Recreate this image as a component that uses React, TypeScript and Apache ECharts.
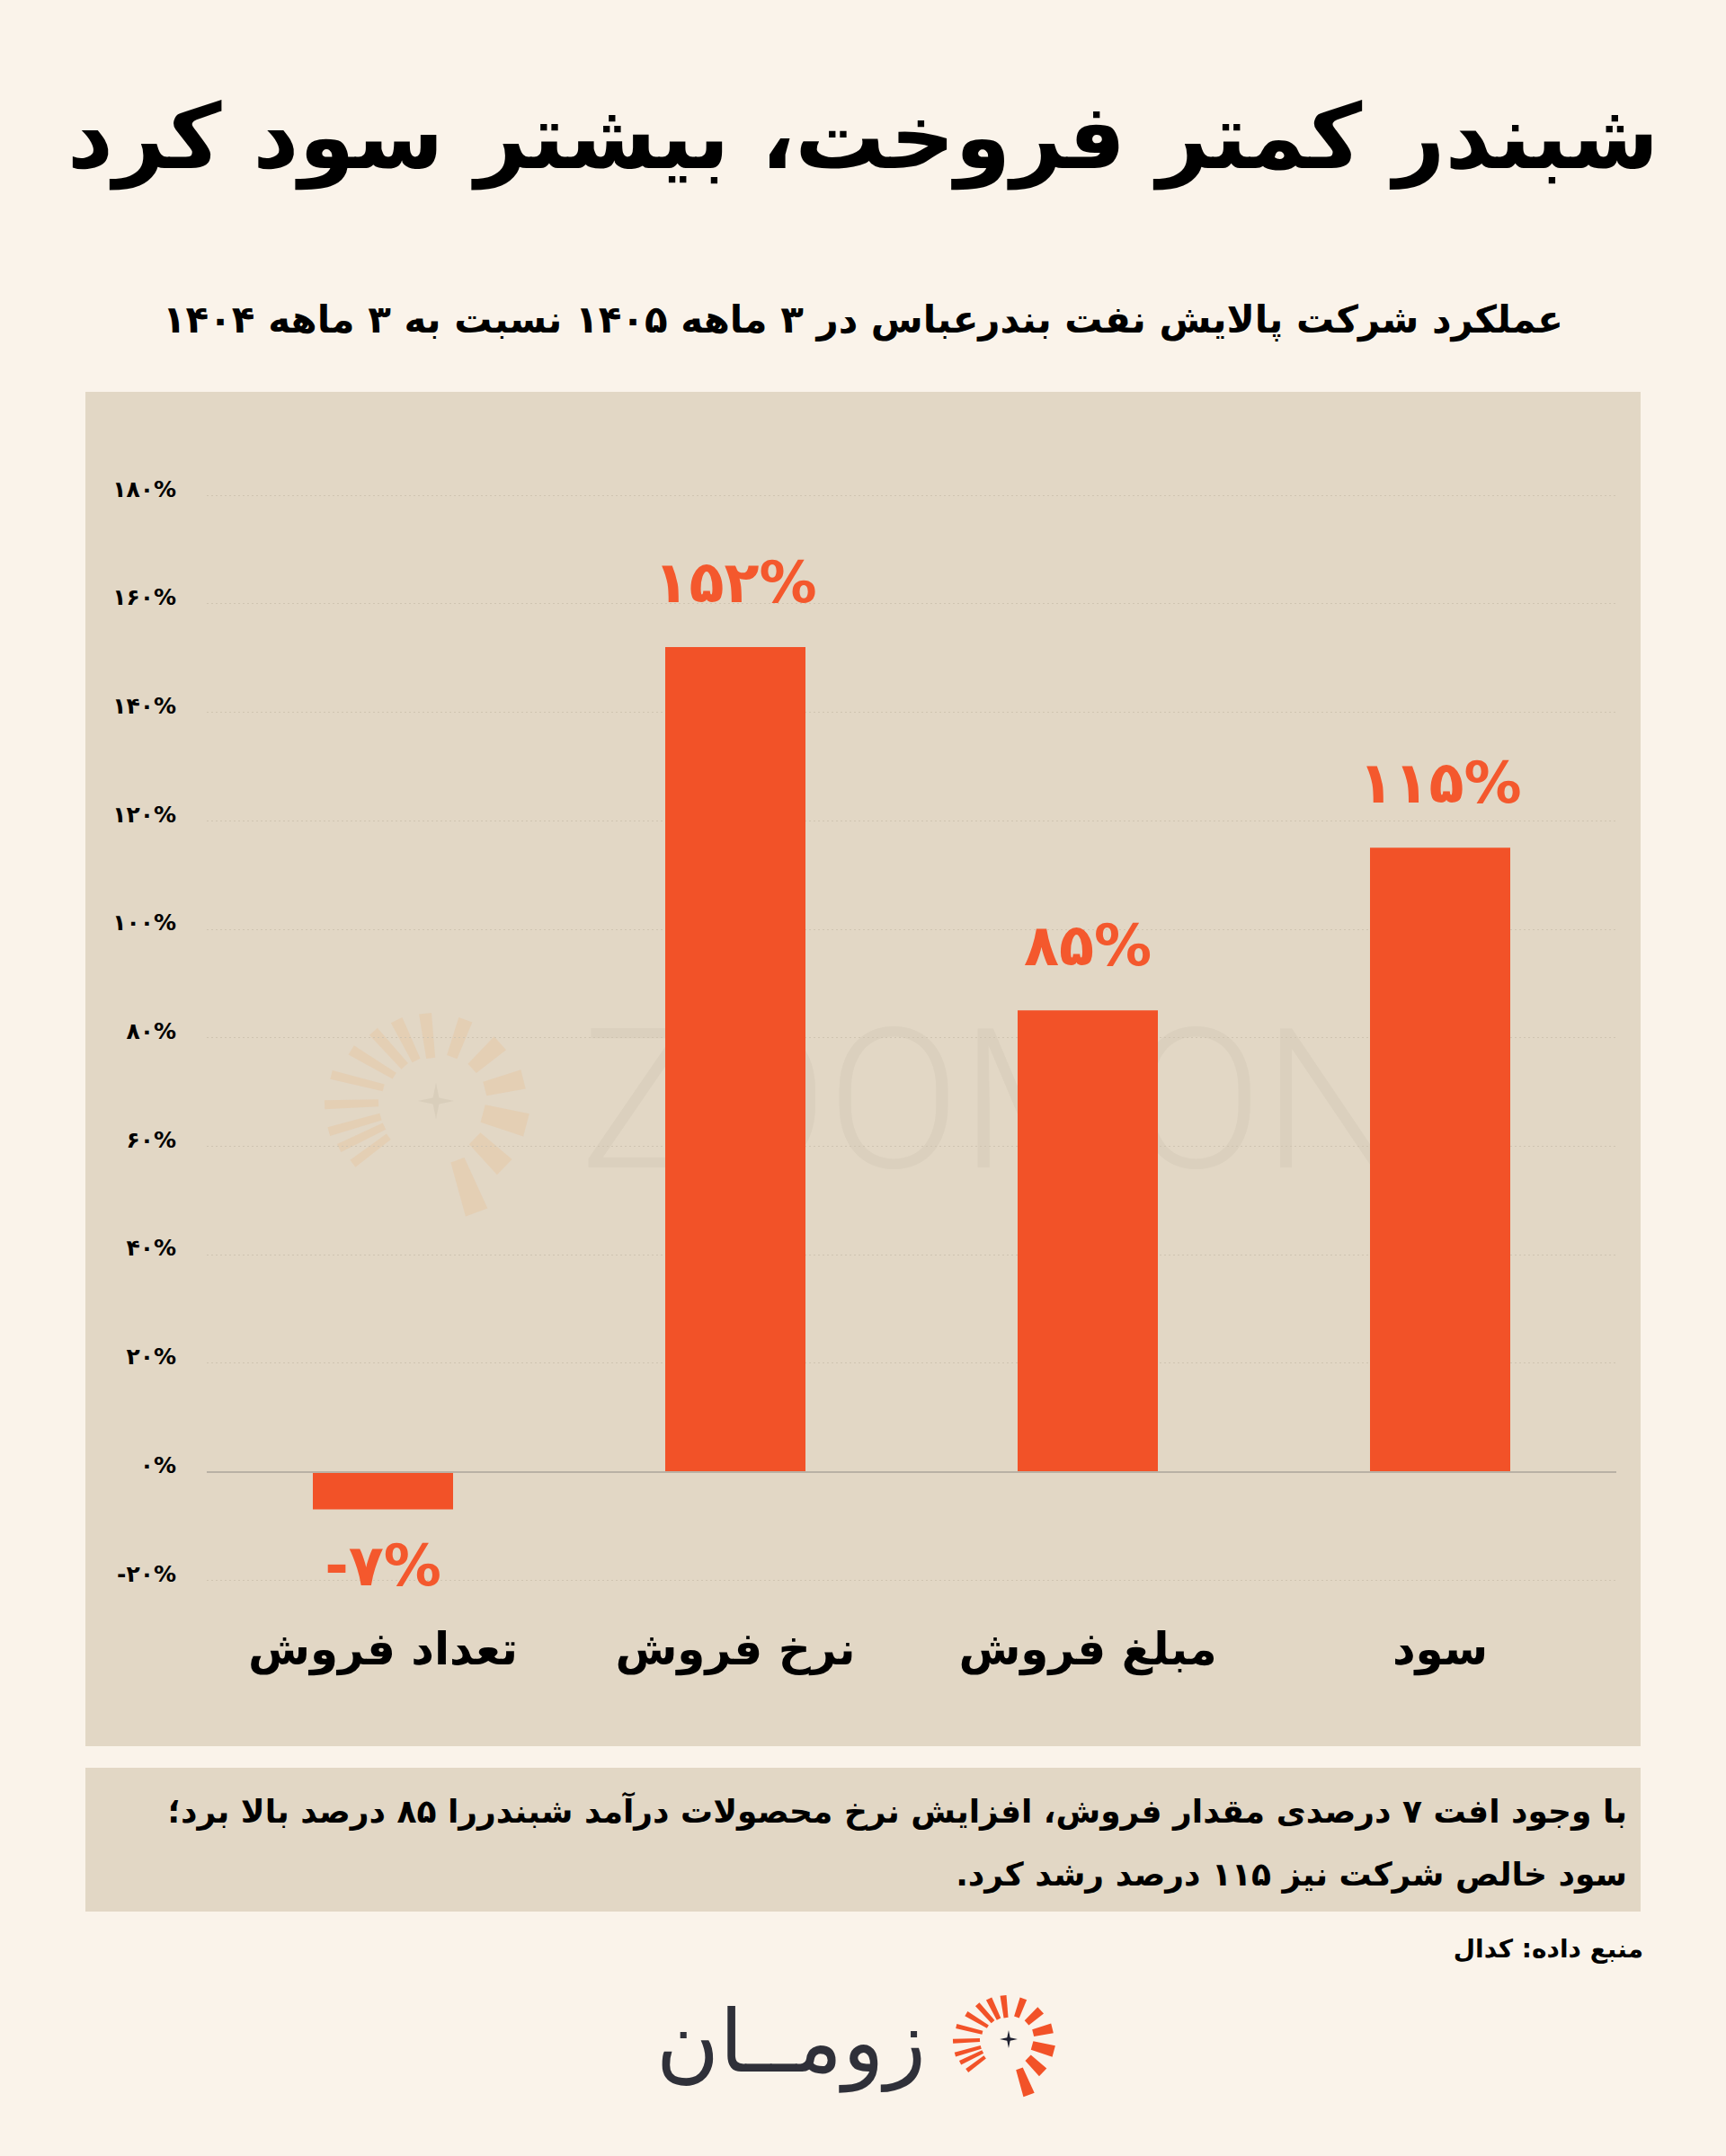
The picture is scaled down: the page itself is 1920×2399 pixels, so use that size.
import React, { useEffect, useRef } from "react";
import * as echarts from "echarts";

// ---------- data ----------
const categories = ["تعداد فروش", "نرخ فروش", "مبلغ فروش", "سود"];
const changePct = [-7, 152, 85, 115];
const yMin = -20;
const yMax = 180;
const yStep = 20;

const titleText = "شبندر کمتر فروخت، بیشتر سود کرد";
const subtitleText = "عملکرد شرکت پالایش نفت بندرعباس در ۳ ماهه ۱۴۰۵ نسبت به ۳ ماهه ۱۴۰۴";
const noteLines = [
  "با وجود افت ۷ درصدی مقدار فروش، افزایش نرخ محصولات درآمد شبندررا ۸۵ درصد بالا برد؛",
  "سود خالص شرکت نیز ۱۱۵ درصد رشد کرد.\u200F",
];
const sourceText = "منبع داده: کدال";
const brandText = "زومــان";
const watermarkText = "ZOOMON";

// ---------- helpers ----------
const FA_DIGITS = "۰۱۲۳۴۵۶۷۸۹";
const fa = (s: string) => s.replace(/\d/g, (d) => FA_DIGITS[+d]);
const pct = (v: number) => fa(String(v)) + "%";

const FONT = '"DejaVu Sans", sans-serif';
const ORANGE = "#F25228";
const PANEL = "#E2D7C5";

// rays of the sunburst logo: [angleDeg, innerR, outerR, innerW, outerW]
const rays: number[][] = [
  [70, 35, 66, 8, 13],
  [44, 30, 53, 9, 12],
  [15, 27, 52, 10, 13],
  [-14, 28, 50, 8, 11],
  [-42, 27, 48, 7, 10],
  [-70, 26, 48, 6, 8],
  [-97, 24, 49, 5, 7],
  [-116, 25, 50, 5, 7],
  [-132, 26, 52, 5, 6],
  [-149, 27, 55, 4, 6],
  [-166, 30, 60, 4, 5],
  [178, 32, 62, 4, 5],
  [164, 32, 62, 4, 5],
  [154, 32, 60, 4, 5],
  [143, 33, 58, 4, 5],
];

function sunburst(cx: number, cy: number, s: number, rayFill: string, starFill: string, z: number) {
  const els: any[] = [];
  rays.forEach(([a, r0, r1, w0, w1]) => {
    const t = (a * Math.PI) / 180;
    const ux = Math.cos(t), uy = Math.sin(t);
    const px = -uy, py = ux;
    const pts = [
      [cx + (ux * r0 + px * w0 / 2) * s, cy + (uy * r0 + py * w0 / 2) * s],
      [cx + (ux * r1 + px * w1 / 2) * s, cy + (uy * r1 + py * w1 / 2) * s],
      [cx + (ux * r1 - px * w1 / 2) * s, cy + (uy * r1 - py * w1 / 2) * s],
      [cx + (ux * r0 - px * w0 / 2) * s, cy + (uy * r0 - py * w0 / 2) * s],
    ];
    els.push({ type: "polygon", z, silent: true, shape: { points: pts }, style: { fill: rayFill } });
  });
  const R = 10 * s, r = 2.4 * s;
  const star: number[][] = [];
  for (let i = 0; i < 8; i++) {
    const ang = (i * Math.PI) / 4 - Math.PI / 2;
    const rr = i % 2 === 0 ? R : r;
    star.push([cx + Math.cos(ang) * rr, cy + Math.sin(ang) * rr]);
  }
  els.push({ type: "polygon", z, silent: true, shape: { points: star }, style: { fill: starFill } });
  return els;
}

export default function App() {
  const ref = useRef<HTMLDivElement>(null);

  useEffect(() => {
    if (!ref.current) return;
    const chart = echarts.init(ref.current, undefined, { renderer: "svg" });

    const graphic: any[] = [
      { type: "rect", z: -20, silent: true, shape: { x: 95, y: 436, width: 1730, height: 1507 }, style: { fill: PANEL } },
      { type: "rect", z: -20, silent: true, shape: { x: 95, y: 1967, width: 1730, height: 160 }, style: { fill: PANEL } },
      {
        type: "text", z: 10, x: 960, y: 152,
        style: { text: titleText, fill: "#000", fontFamily: FONT, fontWeight: "bold", fontSize: 100, textAlign: "center", textVerticalAlign: "middle" },
      },
      {
        type: "text", z: 10, x: 960, y: 355,
        style: { text: subtitleText, fill: "#000", fontFamily: FONT, fontWeight: "bold", fontSize: 42, textAlign: "center", textVerticalAlign: "middle" },
      },
      {
        type: "text", z: 10, x: 1810, y: 2015,
        style: { text: noteLines[0], fill: "#000", fontFamily: FONT, fontWeight: "bold", fontSize: 36, textAlign: "right", textVerticalAlign: "middle" },
      },
      {
        type: "text", z: 10, x: 1810, y: 2085,
        style: { text: noteLines[1], fill: "#000", fontFamily: FONT, fontWeight: "bold", fontSize: 36, textAlign: "right", textVerticalAlign: "middle" },
      },
      {
        type: "text", z: 10, x: 1828, y: 2168,
        style: { text: sourceText, fill: "#000", fontFamily: FONT, fontWeight: "bold", fontSize: 28, textAlign: "right", textVerticalAlign: "middle" },
      },
      {
        type: "text", z: 10, x: 1030, y: 2272,
        style: { text: brandText, fill: "#2F3039", fontFamily: FONT, fontWeight: "normal", fontSize: 96, textAlign: "right", textVerticalAlign: "middle" },
      },
      {
        type: "text", z: -5, x: 1102, y: 1224,
        style: { text: watermarkText, fill: "rgba(60,40,20,0.04)", fontFamily: "Roboto", fontWeight: 300, fontSize: 218, textAlign: "center", textVerticalAlign: "middle" },
      },
      ...sunburst(1122, 2269, 1, ORANGE, "#1F2030", 10),
      ...sunburst(485, 1225, 2.0, "rgba(240,160,90,0.15)", "rgba(120,100,80,0.08)", -5),
    ];

    chart.setOption({
      animation: false,
      backgroundColor: "#FAF3EA",
      textStyle: { fontFamily: FONT },
      grid: { left: 230, right: 122, top: 551, bottom: 641, containLabel: false },
      xAxis: {
        type: "category",
        data: categories,
        axisLine: { show: false, onZero: false },
        axisTick: { show: false },
        splitLine: { show: false },
        axisLabel: { color: "#000", fontSize: 50, fontWeight: "bold", fontFamily: FONT, margin: 52 },
      },
      yAxis: {
        type: "value",
        min: yMin,
        max: yMax,
        interval: yStep,
        axisLine: { show: false },
        axisTick: { show: false },
        splitLine: { show: true, lineStyle: { type: [2, 3], color: "#CFC4B1", width: 1 } },
        axisLabel: {
          color: "#000",
          fontSize: 25,
          fontWeight: "bold",
          fontFamily: FONT,
          margin: 34,
          verticalAlign: "bottom",
          lineHeight: 14,
          formatter: (v: number) => (v < 0 ? "-" + pct(-v) : pct(v)),
        },
      },
      series: [
        {
          type: "bar",
          barWidth: 156,
          z: 3,
          itemStyle: { color: ORANGE },
          data: changePct.map((v) =>
            v < 0
              ? { value: v, label: { position: "bottom", distance: 30 } }
              : { value: v }
          ),
          label: {
            show: true,
            position: "top",
            distance: 40,
            color: "#F4582D",
            fontSize: 64,
            fontWeight: "bold",
            fontFamily: FONT,
            formatter: (p: any) => (p.value < 0 ? "-" + pct(-p.value) : pct(p.value)),
          },
          markLine: {
            silent: true,
            symbol: "none",
            label: { show: false },
            lineStyle: { type: "solid", color: "#B9B1A5", width: 2 },
            data: [{ yAxis: 0 }],
          },
        },
      ],
      graphic,
    });

    return () => chart.dispose();
  }, []);

  return <div ref={ref} style={{ position: "absolute", left: 0, top: 0, width: 1920, height: 2399 }} />;
}
